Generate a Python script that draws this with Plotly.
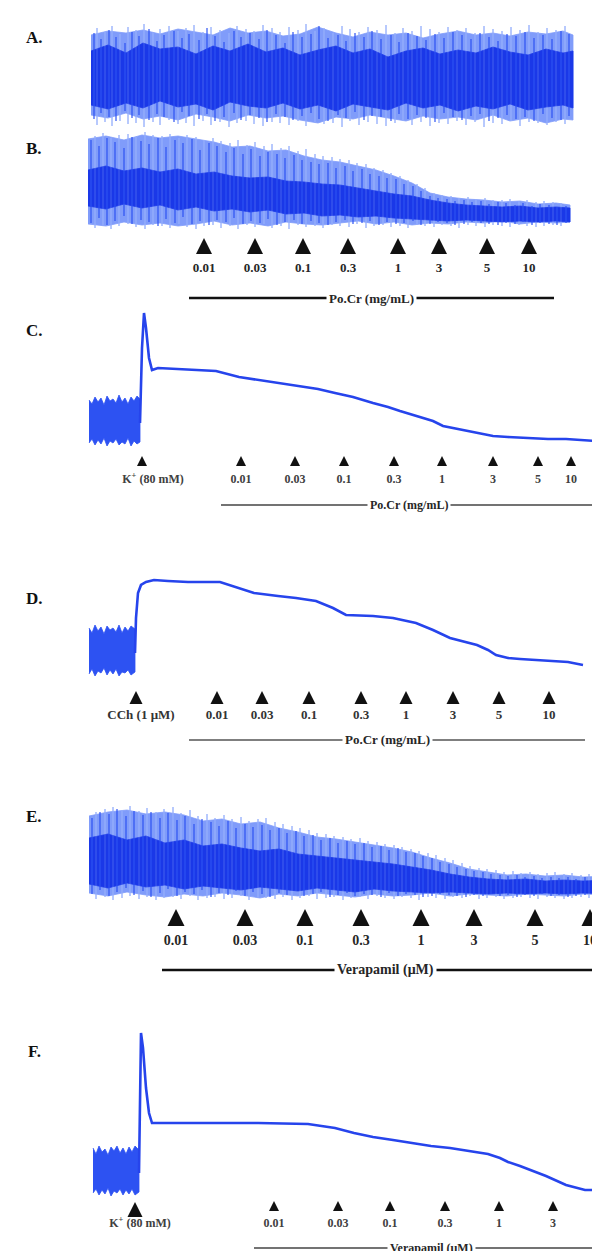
import plotly.graph_objects as go

FIG_W, FIG_H = 600, 1251

# ---------------- DATA (time in a.u., tension in a.u.) ----------------
DOSES_PO = ['0.01', '0.03', '0.1', '0.3', '1', '3', '5', '10']
DOSES_VER = ['0.01', '0.03', '0.1', '0.3', '1', '3', '5', '10']

# Panel A - spontaneous contractions (envelopes, core band, individual spikes)
A_env_t = [83, 100, 118, 135, 152, 170, 188, 205, 222, 240, 258, 275, 292, 310, 328, 345, 362, 380, 398, 415,
           432, 450, 468, 485, 502, 520, 538, 555, 565]
A_env_top = [88, 92, 90, 93, 89, 94, 91, 88, 95, 90, 92, 87, 89, 96, 90, 86, 91, 88, 90, 85,
             89, 92, 88, 90, 87, 91, 89, 92, 88]
A_env_bot = [8, 5, 10, 4, 7, 3, 9, 6, 2, 8, 5, 7, 3, 0, 6, 4, 8, 5, 2, 7,
             4, 6, 3, 8, 2, 5, 0, 4, 3]
A_core_top = [72, 78, 70, 80, 74, 76, 69, 77, 72, 79, 71, 75, 68, 73, 77, 70, 74, 66, 72, 75,
              69, 73, 70, 76, 71, 68, 74, 70, 72]
A_core_bot = [18, 14, 20, 15, 22, 16, 19, 13, 21, 17, 15, 20, 14, 18, 12, 19, 16, 13, 20, 15,
              18, 12, 17, 14, 19, 13, 16, 18, 15]
A_spk_t = [86, 93, 101, 108, 117, 124, 131, 141, 149, 156, 166, 174, 181, 191, 199, 207, 216, 226, 233, 242,
           251, 259, 268, 277, 285, 294, 303, 311, 320, 330, 338, 347, 356, 364, 373, 383, 391, 400, 409, 418,
           427, 436, 445, 454, 463, 472, 481, 490, 499, 508, 517, 526, 535, 544, 553, 561]
A_spk_hi = [90, 84, 93, 86, 80, 91, 87, 94, 82, 88, 92, 85, 89, 83, 95, 87, 81, 92, 86, 90,
            84, 93, 88, 80, 91, 86, 89, 97, 85, 88, 82, 90, 86, 92, 84, 88, 81, 90, 87, 83,
            89, 85, 91, 88, 84, 90, 86, 82, 89, 87, 91, 85, 88, 84, 92, 89]
A_spk_lo = [4, 10, 6, 2, 12, 5, 8, 3, 9, 6, 1, 11, 7, 4, 9, 2, 6, 10, 3, 8,
            5, 1, 9, 6, 3, 7, 10, 4, 2, 8, 5, 11, 3, 7, 6, 2, 9, 4, 8, 5,
            1, 10, 6, 3, 7, 9, 2, 5, 8, 4, 6, 2, 9, 5, 3, 7]
A_spk2_t = [89, 97, 104, 112, 120, 128, 136, 145, 152, 161, 170, 178, 186, 195, 203, 212, 221, 229, 238, 246,
            255, 264, 272, 281, 290, 298, 307, 316, 325, 334, 342, 351, 360, 369, 378, 387, 395, 404, 413, 422,
            431, 440, 449, 458, 467, 476, 485, 494, 503, 512, 521, 530, 539, 548, 557]
A_spk2_hi = [95, 91, 97, 89, 96, 93, 99, 90, 94, 97, 92, 95, 98, 91, 96, 93, 90, 97, 94, 92,
             98, 95, 91, 96, 93, 99, 92, 95, 90, 97, 94, 91, 96, 93, 98, 90, 95, 92, 97, 94,
             91, 96, 93, 95, 90, 97, 94, 92, 96, 93, 98, 91, 95, 93, 97]
A_spk2_lo = [-2, 1, -3, 2, -1, 0, -4, 1, -2, 3, -1, 0, -3, 2, -2, 1, -4, 0, 2, -1,
             -3, 1, 0, -2, 2, -3, 1, -1, 0, -4, 2, -2, 1, -1, -3, 0, 2, -2, 1, -3,
             0, -1, 2, -2, 1, -4, 0, -1, 2, -3, 1, 0, -2, 1, -1]

# Panel B - Po.Cr on spontaneous contractions
B_env_t = [80, 98, 116, 134, 152, 170, 188, 206, 224, 242, 260, 278, 296, 314, 332, 350, 368, 386, 404, 422,
           440, 458, 476, 494, 512, 530, 548, 562]
B_env_top = [87, 90, 86, 91, 88, 90, 87, 84, 79, 80, 75, 76, 70, 66, 64, 60, 56, 50, 43, 33,
             29, 27, 26, 24, 25, 22, 23, 21]
B_env_bot = [2, 0, 4, 1, 3, 0, 2, 5, 1, 3, 0, 4, 2, 1, 3, 5, 2, 4, 1, 3,
             2, 4, 3, 5, 2, 4, 3, 4]
B_core_top = [56, 60, 55, 58, 54, 57, 52, 54, 50, 48, 49, 45, 44, 42, 41, 38, 35, 32, 30, 26,
              23, 21, 20, 19, 20, 18, 19, 18]
B_core_bot = [20, 17, 22, 18, 21, 16, 19, 15, 17, 14, 16, 12, 13, 10, 11, 9, 10, 8, 7, 6,
              5, 6, 5, 4, 5, 4, 5, 4]
B_spk_t = [83, 91, 99, 107, 116, 124, 133, 141, 150, 158, 167, 175, 184, 192, 201, 209, 218, 226, 235, 243,
           252, 260, 269, 277, 286, 294, 303, 311, 320, 328, 337, 345, 354, 362, 371, 379, 388, 396, 405, 413,
           422, 430, 439, 447, 456, 464, 473, 481, 490, 498, 507, 515, 524, 532, 541, 549, 558]
B_spk_hi = [86, 80, 88, 84, 78, 89, 85, 82, 88, 79, 86, 83, 87, 76, 83, 80, 74, 78, 72, 77,
            70, 74, 72, 68, 71, 66, 64, 62, 63, 58, 60, 55, 57, 52, 50, 48, 47, 42, 40, 35,
            30, 28, 27, 25, 26, 24, 25, 22, 24, 23, 21, 23, 20, 22, 21, 19, 20]
B_spk_lo = [3, 8, 1, 5, 10, 2, 6, 4, 0, 7, 3, 9, 2, 5, 1, 6, 4, 8, 2, 5,
            3, 7, 1, 4, 6, 2, 5, 3, 1, 4, 6, 2, 3, 5, 1, 4, 2, 3, 5, 1,
            2, 4, 3, 1, 2, 4, 3, 2, 1, 3, 2, 4, 1, 3, 2, 1, 3]
B_spk2_t = [87, 95, 103, 111, 120, 128, 137, 145, 154, 162, 171, 179, 188, 196, 205, 213, 222, 230, 239, 247,
            256, 264, 273, 281, 290, 298, 307, 315, 324, 332, 341, 349, 358, 366, 375, 383, 392, 400, 409, 417,
            426, 434, 443, 451, 460, 468, 477, 485, 494, 502, 511, 519, 528, 536, 545, 553]
B_spk2_hi = [90, 93, 88, 91, 92, 89, 94, 91, 90, 92, 88, 91, 89, 86, 88, 85, 83, 86, 81, 84,
             80, 82, 78, 80, 75, 77, 72, 70, 69, 67, 66, 63, 62, 58, 56, 53, 50, 46, 42, 38,
             33, 31, 30, 28, 29, 27, 28, 26, 26, 27, 25, 26, 24, 25, 24, 23]
B_spk2_lo = [-2, 1, -3, 0, 2, -1, -3, 1, 0, -2, 2, -1, -3, 0, 1, -2, 0, -3, 1, -1,
             2, -2, 0, -3, 1, -1, 0, -2, 1, 0, -1, 2, -2, 0, 1, -1, 0, -2, 1, 0,
             -1, 1, 0, -2, 1, 0, -1, 1, 0, -1, 1, 0, -1, 0, 1, 0]
B_dose_t = [196, 247, 295, 340, 390, 431, 479, 521]
B_bar_t = [181, 546]

# Panel C - K+ (80 mM) induced contraction, Po.Cr
C_base_t = [81, 84, 87, 90, 93, 96, 99, 102, 105, 108, 111, 114, 117, 120, 123, 126, 129, 132]
C_base_top = [48, 44, 51, 46, 50, 43, 52, 47, 49, 45, 53, 46, 50, 44, 51, 47, 52, 49]
C_base_bot = [5, 9, 3, 8, 4, 10, 2, 7, 5, 9, 3, 6, 4, 10, 2, 7, 4, 6]
C_t = [132, 134, 136, 138, 141, 144, 150, 175, 208, 231, 250, 269, 292, 310, 327, 345, 365, 380, 392, 415,
       425, 435, 450, 462, 485, 500, 519, 540, 558, 587]
C_y = [25, 100, 135, 120, 90, 78, 80, 79, 77, 71, 68, 65, 62, 59, 55, 51, 45, 41, 37, 30,
       27, 22, 19, 17, 12, 11, 10, 9, 9, 7]
C_stim_t = [134]
C_dose_t = [233, 287, 336, 386, 434, 485, 530, 563]
C_bar_t = [213, 588]

# Panel D - CCh (1 uM) induced contraction, Po.Cr
D_base_t = [81, 84, 87, 90, 93, 96, 99, 102, 105, 108, 111, 114, 117, 120, 123, 127]
D_base_top = [50, 45, 53, 47, 51, 44, 52, 48, 50, 46, 53, 45, 51, 47, 52, 49]
D_base_bot = [4, 9, 2, 7, 5, 10, 3, 8, 4, 9, 2, 6, 5, 8, 3, 6]
D_t = [127, 128, 130, 133, 138, 146, 160, 180, 212, 231, 246, 270, 288, 308, 325, 338, 365, 385, 408, 425,
       442, 469, 480, 488, 500, 512, 546, 560, 575]
D_y = [25, 60, 85, 93, 96, 98, 97, 96, 96, 90, 85, 82, 80, 77, 70, 63, 62, 60, 55, 48,
       40, 33, 28, 23, 20, 19, 17, 16, 13]
D_stim_t = [128]
D_dose_t = [209, 254, 301, 353, 398, 445, 491, 541]
D_bar_t = [181, 577]

# Panel E - Verapamil on spontaneous contractions
E_env_t = [81, 100, 119, 138, 157, 176, 195, 214, 233, 252, 271, 290, 309, 328, 347, 366, 385, 404, 423, 442,
           461, 480, 499, 518, 537, 556, 575, 600]
E_env_top = [82, 86, 88, 84, 86, 83, 77, 79, 74, 76, 70, 66, 61, 59, 56, 53, 50, 46, 40, 35,
             29, 26, 23, 24, 22, 23, 21, 22]
E_env_bot = [5, 2, 6, 3, 1, 4, 2, 5, 3, 0, 4, 2, 5, 3, 1, 4, 2, 3, 5, 2,
             4, 3, 2, 4, 3, 2, 4, 3]
E_core_top = [60, 64, 58, 62, 55, 58, 52, 54, 50, 47, 49, 44, 42, 40, 38, 36, 34, 31, 28, 24,
              21, 19, 18, 19, 17, 18, 17, 18]
E_core_bot = [14, 10, 15, 11, 13, 9, 12, 10, 8, 11, 9, 7, 10, 8, 6, 9, 7, 6, 5, 6,
              5, 4, 5, 4, 5, 4, 5, 4]
E_spk_t = [84, 92, 101, 109, 118, 126, 135, 143, 152, 160, 169, 177, 186, 194, 203, 211, 220, 228, 237, 245,
           254, 262, 271, 279, 288, 296, 305, 313, 322, 330, 339, 347, 356, 364, 373, 381, 390, 398, 407, 415,
           424, 432, 441, 449, 458, 466, 475, 483, 492, 500, 509, 517, 526, 534, 543, 551, 560, 568, 577, 585, 594]
E_spk_hi = [80, 86, 84, 89, 82, 87, 83, 86, 80, 85, 78, 82, 74, 79, 76, 72, 77, 70, 74, 71,
            73, 68, 70, 65, 67, 62, 63, 58, 60, 55, 57, 54, 55, 51, 52, 48, 50, 46, 45, 42,
            40, 36, 34, 31, 29, 27, 26, 24, 23, 22, 23, 21, 22, 20, 21, 20, 21, 19, 21, 20, 19]
E_spk_lo = [4, 8, 2, 6, 10, 3, 7, 1, 5, 9, 2, 6, 4, 8, 1, 5, 3, 7, 2, 6,
            4, 1, 5, 3, 7, 2, 4, 6, 1, 3, 5, 2, 4, 3, 1, 5, 2, 4, 3, 1,
            2, 4, 3, 2, 1, 3, 2, 4, 2, 3, 1, 3, 2, 4, 2, 3, 1, 2, 3, 2, 1]
E_spk2_t = [88, 97, 105, 114, 122, 131, 139, 148, 156, 165, 173, 182, 190, 199, 207, 216, 224, 233, 241, 250,
            258, 267, 275, 284, 292, 301, 309, 318, 326, 335, 343, 352, 360, 369, 377, 386, 394, 403, 411, 420,
            428, 437, 445, 454, 462, 471, 479, 488, 496, 505, 513, 522, 530, 539, 547, 556, 564, 573, 581, 590, 598]
E_spk2_hi = [86, 89, 91, 88, 92, 87, 90, 86, 89, 91, 85, 88, 82, 84, 80, 83, 79, 81, 77, 79,
             80, 76, 74, 72, 70, 68, 65, 64, 62, 61, 59, 60, 57, 56, 54, 53, 51, 49, 47, 45,
             43, 40, 38, 35, 32, 30, 29, 28, 26, 27, 25, 26, 24, 25, 26, 24, 25, 23, 24, 25, 23]
E_spk2_lo = [-1, 1, -2, 0, 2, -1, 1, -2, 0, 1, -1, 2, -2, 0, 1, -1, 0, 2, -2, 1,
             0, -1, 1, -2, 0, 2, -1, 0, 1, -2, 0, 1, -1, 2, 0, -1, 1, 0, -2, 1,
             0, -1, 1, 0, 2, -1, 0, 1, -1, 0, 1, 0, -1, 1, 0, -1, 0, 1, 0, -1, 0]
E_dose_t = [168, 237, 297, 353, 413, 466, 527, 582]
E_bar_t = [154, 600]

# Panel F - K+ (80 mM) induced contraction, Verapamil
F_base_t = [85, 88, 91, 94, 97, 100, 103, 106, 109, 112, 115, 118, 121, 124, 127, 131]
F_base_top = [50, 44, 52, 46, 49, 43, 51, 47, 52, 45, 50, 44, 51, 46, 52, 48]
F_base_bot = [5, 9, 3, 8, 4, 10, 2, 7, 5, 9, 3, 8, 4, 9, 3, 6]
F_t = [131, 132, 133, 135, 138, 141, 144, 200, 250, 300, 308, 327, 346, 365, 385, 404, 423, 442, 462, 480,
       492, 500, 512, 525, 538, 558, 577, 600]
F_y = [25, 100, 165, 150, 110, 85, 75, 75, 75, 74, 73, 70, 65, 61, 58, 55, 52, 50, 47, 44,
       40, 36, 32, 27, 22, 13, 8, 8]
F_stim_t = [127]
F_dose_t = [266, 330, 382, 437, 491, 545]
F_bar_t = [246, 600]

# ---------------- STYLE / LAYOUT ----------------
LIGHT = 'rgb(128,156,250)'
PALE = 'rgb(150,175,252)'
MID = 'rgb(45,82,242)'
DARK = 'rgb(26,56,232)'
TRACE = 'rgb(38,68,236)'
SERIF = 'Liberation Serif'

# panel bands in figure pixels: top, bottom, and reference pixel row for tension 0
PANELS = {
    'A': dict(n=1, ref=115, top=10, bottom=122, letter_y=30),
    'B': dict(n=2, ref=218, top=122, bottom=302, letter_y=141),
    'C': dict(n=3, ref=440, top=296, bottom=508, letter_y=322),
    'D': dict(n=4, ref=670, top=562, bottom=746, letter_y=590),
    'E': dict(n=5, ref=890, top=794, bottom=976, letter_y=808),
    'F': dict(n=6, ref=1190, top=1016, bottom=1251, letter_y=1043),
}

fig = go.Figure()


def axn(n):
    return ('x' if n == 1 else f'x{n}'), ('y' if n == 1 else f'y{n}')


def band(p, t, top, bot, color):
    xa, ya = axn(PANELS[p]['n'])
    fig.add_trace(go.Scatter(x=list(t) + list(t)[::-1], y=list(top) + list(bot)[::-1],
                             fill='toself', fillcolor=color, mode='lines',
                             line=dict(width=0.8, color=color), hoverinfo='skip',
                             showlegend=False, xaxis=xa, yaxis=ya))


def spikes(p, t, lo, hi, color, width, opacity=1.0):
    xa, ya = axn(PANELS[p]['n'])
    xs, ys = [], []
    for a, l, h in zip(t, lo, hi):
        xs += [a, a, None]
        ys += [l, h, None]
    fig.add_trace(go.Scatter(x=xs, y=ys, mode='lines', line=dict(width=width, color=color),
                             opacity=opacity, hoverinfo='skip', showlegend=False,
                             xaxis=xa, yaxis=ya))


def trace(p, t, y, width=2.6):
    xa, ya = axn(PANELS[p]['n'])
    fig.add_trace(go.Scatter(x=t, y=y, mode='lines', line=dict(width=width, color=TRACE),
                             hoverinfo='skip', showlegend=False, xaxis=xa, yaxis=ya))


def row(p, px):
    return PANELS[p]['ref'] - px


def triangles(p, t, apex_px, size):
    xa, ya = axn(PANELS[p]['n'])
    fig.add_trace(go.Scatter(x=t, y=[row(p, apex_px)] * len(t), mode='markers',
                             marker=dict(symbol='arrow-up', size=size, color='#111111',
                                         line=dict(width=0)),
                             hoverinfo='skip', showlegend=False, xaxis=xa, yaxis=ya))


def labels(p, t, texts, px, size, color='#262626'):
    xa, ya = axn(PANELS[p]['n'])
    fig.add_trace(go.Scatter(x=t, y=[row(p, px)] * len(t), mode='text', text=texts,
                             textposition='middle center',
                             textfont=dict(family=SERIF, size=size, color=color, weight='bold'),
                             hoverinfo='skip', showlegend=False, xaxis=xa, yaxis=ya))


def drug_bar(p, bar_t, px, title, size, width, color):
    xa, ya = axn(PANELS[p]['n'])
    fig.add_trace(go.Scatter(x=bar_t, y=[row(p, px)] * 2, mode='lines',
                             line=dict(width=width, color=color),
                             hoverinfo='skip', showlegend=False, xaxis=xa, yaxis=ya))
    fig.add_annotation(x=(bar_t[0] + bar_t[1]) / 2, y=row(p, px), xref=xa, yref=ya,
                       text=title, showarrow=False, bgcolor='white', borderpad=2,
                       font=dict(family=SERIF, size=size, color='#262626', weight='bold'))


def oscillation(p, env_t, env_top, env_bot, core_top, core_bot, s1, s2):
    band(p, env_t, env_top, env_bot, LIGHT)
    spikes(p, s2[0], s2[1], s2[2], PALE, 1.2)
    band(p, env_t, core_top, core_bot, DARK)
    spikes(p, s1[0], s1[1], s1[2], MID, 1.2)
    spikes(p, s2[0], s2[1], s2[2], PALE, 0.8, 0.45)


# Panel A
oscillation('A', A_env_t, A_env_top, A_env_bot, A_core_top, A_core_bot,
            (A_spk_t, A_spk_lo, A_spk_hi), (A_spk2_t, A_spk2_lo, A_spk2_hi))

# Panel B
oscillation('B', B_env_t, B_env_top, B_env_bot, B_core_top, B_core_bot,
            (B_spk_t, B_spk_lo, B_spk_hi), (B_spk2_t, B_spk2_lo, B_spk2_hi))
triangles('B', B_dose_t, 230, 16)
labels('B', B_dose_t, DOSES_PO, 261, 13)
drug_bar('B', B_bar_t, 290, 'Po.Cr (mg/mL)', 13, 2.4, '#111111')

# Panel C
band('C', C_base_t, C_base_top, C_base_bot, MID)
trace('C', C_t, C_y)
triangles('C', C_stim_t + C_dose_t, 448, 10)
labels('C', [t + 11 for t in C_stim_t], ['K<sup>+</sup> (80 mM)'], 472, 12, '#404040')
labels('C', C_dose_t, DOSES_PO, 472, 12, '#404040')
drug_bar('C', C_bar_t, 497, 'Po.Cr (mg/mL)', 12, 1.6, '#444444')

# Panel D
band('D', D_base_t, D_base_top, D_base_bot, MID)
trace('D', D_t, D_y)
triangles('D', D_stim_t + D_dose_t, 683, 13)
labels('D', [t + 5 for t in D_stim_t], ['CCh (1 μM)'], 708, 13, '#333333')
labels('D', D_dose_t, DOSES_PO, 708, 13, '#333333')
drug_bar('D', D_bar_t, 732, 'Po.Cr (mg/mL)', 13, 1.6, '#555555')

# Panel E
oscillation('E', E_env_t, E_env_top, E_env_bot, E_core_top, E_core_bot,
            (E_spk_t, E_spk_lo, E_spk_hi), (E_spk2_t, E_spk2_lo, E_spk2_hi))
triangles('E', E_dose_t, 901, 17)
labels('E', E_dose_t, DOSES_VER, 933, 14)
drug_bar('E', E_bar_t, 962, 'Verapamil (μM)', 14, 2.4, '#111111')

# Panel F
band('F', F_base_t, F_base_top, F_base_bot, MID)
trace('F', F_t, F_y)
triangles('F', F_stim_t, 1194, 15)
triangles('F', F_dose_t, 1193, 10)
labels('F', [t + 5 for t in F_stim_t], ['K<sup>+</sup> (80 mM)'], 1216, 12, '#404040')
labels('F', F_dose_t, DOSES_VER[:6], 1216, 12, '#404040')
drug_bar('F', F_bar_t, 1240, 'Verapamil (μM)', 12, 1.6, '#444444')

# axes & panel letters
layout = dict(width=FIG_W, height=FIG_H, margin=dict(l=0, r=0, t=0, b=0),
              paper_bgcolor='white', plot_bgcolor='white', showlegend=False)
for p, cfg in PANELS.items():
    n = cfg['n']
    xk = 'xaxis' if n == 1 else f'xaxis{n}'
    yk = 'yaxis' if n == 1 else f'yaxis{n}'
    xa, ya = axn(n)
    layout[xk] = dict(domain=[0, 1], range=[0, FIG_W], visible=False, anchor=ya, fixedrange=True)
    layout[yk] = dict(domain=[1 - cfg['bottom'] / FIG_H, 1 - cfg['top'] / FIG_H],
                      range=[cfg['ref'] - cfg['bottom'], cfg['ref'] - cfg['top']],
                      visible=False, anchor=xa, fixedrange=True)
fig.update_layout(**layout)

for p, cfg in PANELS.items():
    fig.add_annotation(x=26 / FIG_W, y=1 - cfg['letter_y'] / FIG_H, xref='paper', yref='paper',
                       text=p + '.', showarrow=False, xanchor='center', yanchor='middle',
                       font=dict(family=SERIF, size=17, color='#111111', weight='bold'))

fig.write_html('out.html')
